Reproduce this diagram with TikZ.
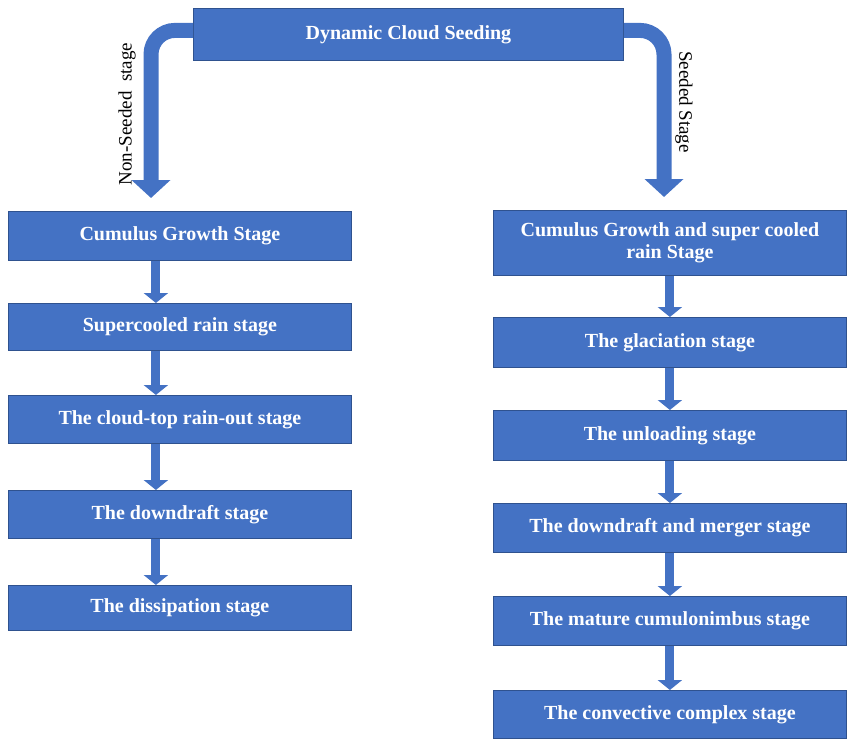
\documentclass[tikz,border=0pt]{standalone}
\usepackage{fontspec}
\setmainfont{Liberation Serif}
\usetikzlibrary{arrows.meta}
\definecolor{boxblue}{HTML}{4472C4}
\definecolor{edgeblue}{HTML}{2F528F}
\begin{document}
\begin{tikzpicture}[x=1pt,y=-1pt,
  stagebox/.style={draw=edgeblue, line width=0.8pt, fill=boxblue, text=white,
    font=\fontsize{20}{22}\selectfont\bfseries, align=center, inner sep=0pt,
    anchor=north west},
  bigflow/.style={draw=boxblue, line width=15pt, rounded corners=24pt,
    -{Triangle[width=38pt,length=18pt]}, shorten >=13pt},
  flow/.style={draw=boxblue, line width=9pt,
    -{Triangle[width=24pt,length=10pt]}},
  sidelabel/.style={font=\fontsize{19}{22}\selectfont, text=black}]
\useasboundingbox (0,0) rectangle (850,738);

% top box
\node[stagebox, minimum width=430pt, minimum height=52pt] (top) at (193,8) {Dynamic Cloud Seeding};

% non-seeded chain
\node[stagebox, minimum width=343pt, minimum height=49pt] (l1) at (8,211) {Cumulus Growth Stage};
\node[stagebox, minimum width=343pt, minimum height=47pt] (l2) at (8,303) {Supercooled rain stage};
\node[stagebox, minimum width=343pt, minimum height=48pt] (l3) at (8,395) {The cloud-top rain-out stage};
\node[stagebox, minimum width=343pt, minimum height=48pt] (l4) at (8,490) {The downdraft stage};
\node[stagebox, minimum width=343pt, minimum height=45pt] (l5) at (8,585) {The dissipation stage};

% seeded chain
\node[stagebox, minimum width=353pt, minimum height=65pt] (r1) at (493,210) {Cumulus Growth and super cooled\\ rain Stage};
\node[stagebox, minimum width=353pt, minimum height=50pt] (r2) at (493,317) {The glaciation stage};
\node[stagebox, minimum width=353pt, minimum height=50pt] (r3) at (493,410) {The unloading stage};
\node[stagebox, minimum width=353pt, minimum height=49pt] (r4) at (493,503) {The downdraft and merger stage};
\node[stagebox, minimum width=353pt, minimum height=49pt] (r5) at (493,596) {The mature cumulonimbus stage};
\node[stagebox, minimum width=353pt, minimum height=48pt] (r6) at (493,690) {The convective complex stage};

% branches from the top box
\coordinate (lbend) at (151,0);
\coordinate (rbend) at (664,0);
\draw[bigflow] ([yshift=4pt]top.west) -- ([yshift=4pt]top.west -| lbend) -- (l1.north -| lbend);
\draw[bigflow] ([yshift=4pt]top.east) -- ([yshift=4pt]top.east -| rbend) -- (r1.north -| rbend);

% branch labels
\node[sidelabel, rotate=90] (nslabel) at (127,114) {Non-Seeded\ \ stage};
\node[sidelabel, rotate=-90] (slabel) at (684,102) {Seeded Stage};

% flow between stages
\foreach \a/\b in {l1/l2,l2/l3,l3/l4,l4/l5}
  \draw[flow] ([xshift=-24pt]\a.south) -- ([xshift=-24pt]\b.north);
\foreach \a/\b in {r1/r2,r2/r3,r3/r4,r4/r5,r5/r6}
  \draw[flow] (\a.south) -- (\b.north);
\end{tikzpicture}
\end{document}
